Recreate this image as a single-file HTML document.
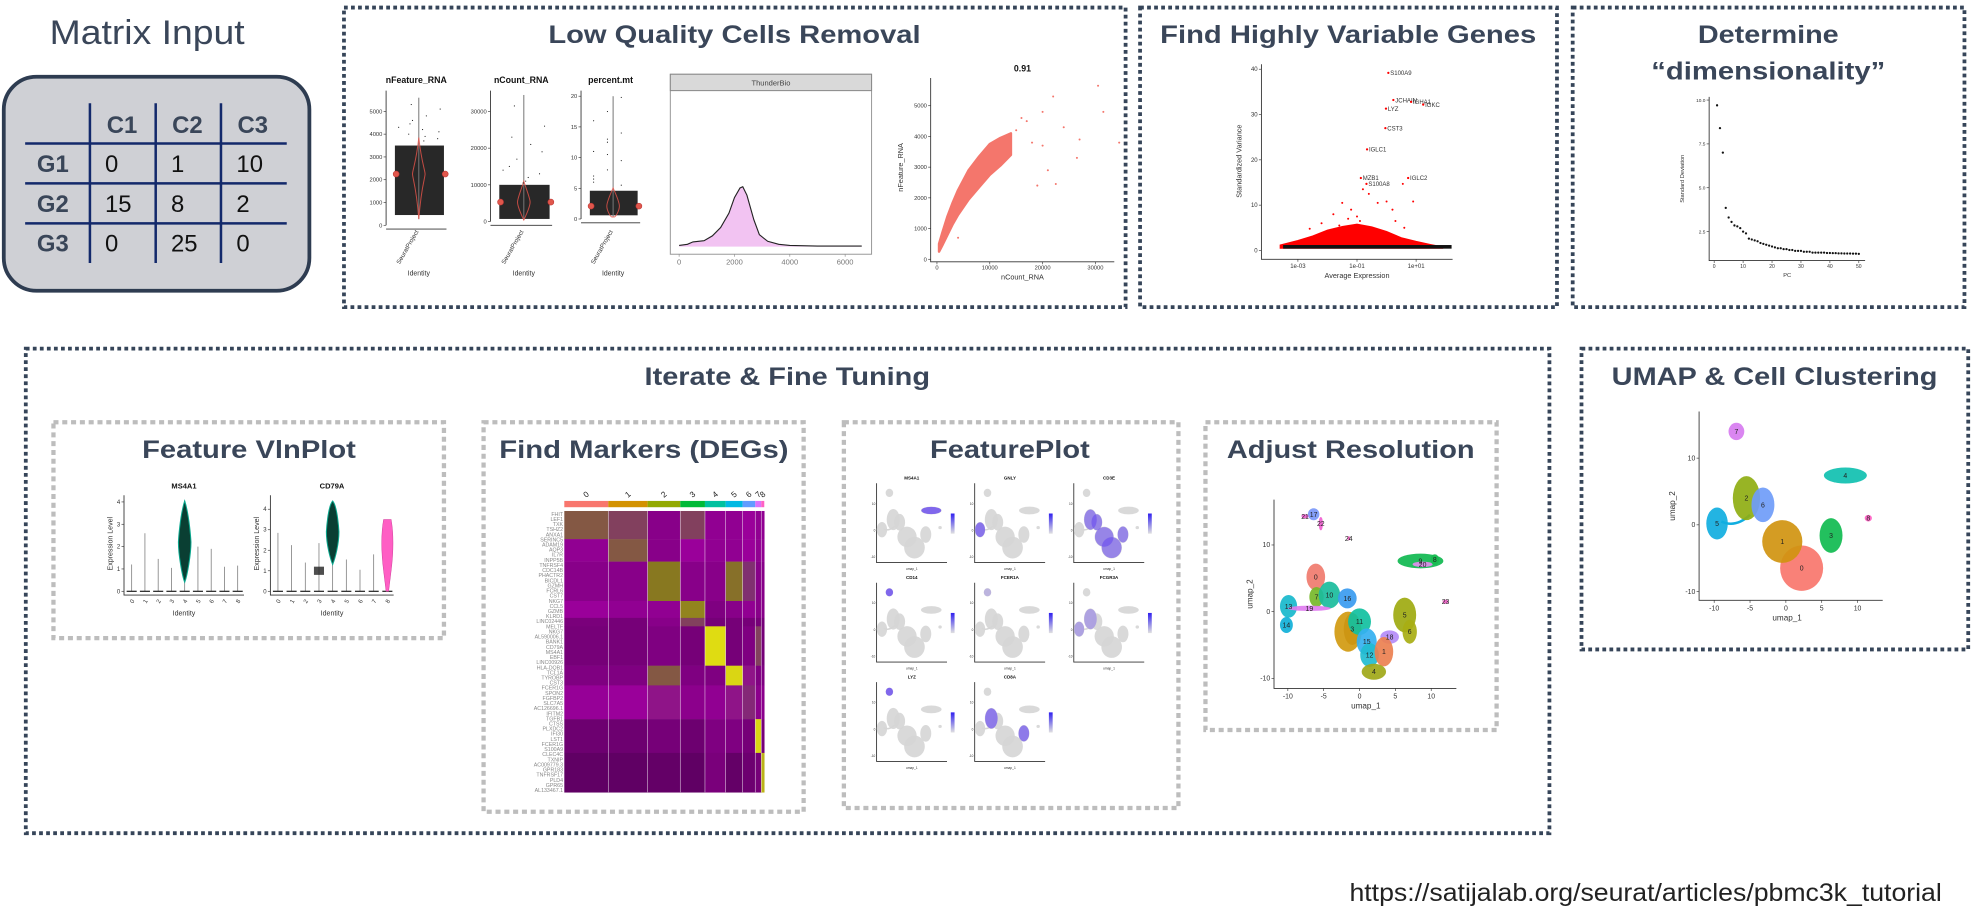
<!DOCTYPE html>
<html><head><meta charset="utf-8">
<style>
html,body{margin:0;padding:0;background:#fff;width:1972px;height:915px;overflow:hidden}
svg{display:block}
text{font-family:"Liberation Sans",Arial,sans-serif}
.ttl{font-weight:bold;fill:#3a4659;font-size:20px}
.nbox{fill:none;stroke:#364559;stroke-width:3;stroke-dasharray:3 2.6}
.gbox{fill:none;stroke:#bdbdbd;stroke-width:3.4;stroke-dasharray:4 3}
.ax{stroke:#333;stroke-width:0.7;fill:none}
.tk{font-size:5px;fill:#444}
</style></head>
<body>
<svg id="fig" width="1972" height="915" viewBox="0 0 1568 727" preserveAspectRatio="none">
<rect x="0" y="0" width="1568" height="727" fill="#fff"/>

<text x="117" y="35" text-anchor="middle" font-size="27" fill="#3a4659" textLength="155" lengthAdjust="spacingAndGlyphs">Matrix Input</text>
<g>
<rect x="3" y="61" width="243" height="170" rx="26" fill="#cfd0d5" stroke="#2e3c51" stroke-width="3"/>
<g stroke="#13296b" stroke-width="2">
<line x1="20" y1="114" x2="228" y2="114"/><line x1="20" y1="145.7" x2="228" y2="145.7"/><line x1="20" y1="177.5" x2="228" y2="177.5"/>
<line x1="71.5" y1="82" x2="71.5" y2="209"/><line x1="123.8" y1="82" x2="123.8" y2="209"/><line x1="175.7" y1="82" x2="175.7" y2="209"/>
</g>
<g font-size="19" font-weight="bold" fill="#3a4659">
<text x="97" y="105.5" text-anchor="middle">C1</text>
<text x="149" y="105.5" text-anchor="middle">C2</text>
<text x="201" y="105.5" text-anchor="middle">C3</text>
<text x="42" y="136.5" text-anchor="middle">G1</text>
<text x="42" y="168.3" text-anchor="middle">G2</text>
<text x="42" y="200" text-anchor="middle">G3</text>
</g>
<g font-size="19" fill="#111">
<text x="83.5" y="136.5">0</text>
<text x="136" y="136.5">1</text>
<text x="188" y="136.5">10</text>
<text x="83.5" y="168.3">15</text>
<text x="136" y="168.3">8</text>
<text x="188" y="168.3">2</text>
<text x="83.5" y="200">0</text>
<text x="136" y="200">25</text>
<text x="188" y="200">0</text>
</g>
</g>

<rect class="nbox" x="273.5" y="6" width="621.5" height="238"/>
<rect class="nbox" x="906.5" y="6" width="331.5" height="238"/>
<rect class="nbox" x="1250.5" y="6" width="311.5" height="238"/>
<rect class="nbox" x="20.5" y="277" width="1211.5" height="385"/>
<rect class="nbox" x="1257.5" y="277" width="307.5" height="239"/>
<rect class="gbox" x="42.5" y="335.5" width="310.5" height="171.5"/>
<rect class="gbox" x="384.5" y="335.5" width="254.5" height="309.5"/>
<rect class="gbox" x="671" y="335.5" width="266" height="306.5"/>
<rect class="gbox" x="958.5" y="335.5" width="231.5" height="244.5"/>

<text class="ttl" x="584" y="34" text-anchor="middle" textLength="296" lengthAdjust="spacingAndGlyphs">Low Quality Cells Removal</text>
<text class="ttl" x="1072" y="34" text-anchor="middle" textLength="299" lengthAdjust="spacingAndGlyphs">Find Highly Variable Genes</text>
<text class="ttl" x="1406" y="34" text-anchor="middle" textLength="112" lengthAdjust="spacingAndGlyphs">Determine</text>
<text class="ttl" x="1406" y="63" text-anchor="middle" textLength="186" lengthAdjust="spacingAndGlyphs">“dimensionality”</text>
<text class="ttl" x="626" y="306" text-anchor="middle" textLength="227" lengthAdjust="spacingAndGlyphs">Iterate &amp; Fine Tuning</text>
<text class="ttl" x="1411" y="306" text-anchor="middle" textLength="259" lengthAdjust="spacingAndGlyphs">UMAP &amp; Cell Clustering</text>
<text class="ttl" x="198" y="364" text-anchor="middle" textLength="170" lengthAdjust="spacingAndGlyphs">Feature VlnPlot</text>
<text class="ttl" x="512" y="364" text-anchor="middle" textLength="230" lengthAdjust="spacingAndGlyphs">Find Markers (DEGs)</text>
<text class="ttl" x="803" y="364" text-anchor="middle" textLength="127" lengthAdjust="spacingAndGlyphs">FeaturePlot</text>
<text class="ttl" x="1074" y="364" text-anchor="middle" textLength="197" lengthAdjust="spacingAndGlyphs">Adjust Resolution</text>
<text x="1544" y="716" text-anchor="end" font-size="19.5" fill="#222" textLength="471" lengthAdjust="spacingAndGlyphs">https://satijalab.org/seurat/articles/pbmc3k_tutorial</text>

<g id="charts"></g>
</svg>

<script>
const qcMetrics = ['nFeature_RNA','nCount_RNA','percent.mt'];
const qcTickVals = [[0,1000,2000,3000,4000,5000],[0,10000,20000,30000],[0,5,10,15,20]];
const qcMax = [5800, 35000, 20.5];
const qcCoreLow = [450, 700, 0.6];
const qcCoreHigh = [3500, 10000, 4.6];
const qcMedian = [2250, 5300, 2.1];
const qcTop = [5600, 34500, 20];
const qcOutliers = [
  [4300,4600,4800,5100,5300,3900,4100,4450,3700,3800,4000,4200],
  [14000,17000,21000,26000,31500,12000,19000,23000,11000,13000,15000,10500],
  [6,8,9.5,11,12.5,14,16,17.5,19.8,7,10.5,5.5,6.5,13]
];
const densX = [0,300,500,900,1200,1500,1800,2000,2200,2300,2450,2700,2900,3200,3600,4000,5000,6600];
const densY = [0.02,0.04,0.08,0.1,0.18,0.32,0.56,0.82,0.98,1.0,0.86,0.45,0.2,0.09,0.04,0.02,0.01,0.01];
const densTicks = [0,2000,4000,6000];
const scBandX = [400,1000,2000,3000,4000,6000,8000,10000,12000,14000];
const scBandLow = [250,450,800,1150,1450,1950,2350,2750,3050,3400];
const scBandHigh = [500,850,1400,1850,2250,2900,3350,3750,3950,4100];
const scOutX = [15000,16000,17000,18000,19000,20000,21000,22000,22500,24000,26500,27000,30500,31500,34500,13000,20000,4000];
const scOutY = [4200,4600,4500,3800,2400,4800,2900,5300,2450,4300,3300,3900,5650,4800,3800,3500,3700,700];
const scXTicks = [0,10000,20000,30000];
const scYTicks = [0,1000,2000,3000,4000,5000];
const hvgLogX = [-3.6,-3,-2.5,-2,-1.5,-1,-0.5,0,0.5,1,1.5,1.9];
const hvgHump = [1.2,2.2,3.2,4.5,5.3,5.8,5.2,4.2,2.8,2.0,1.3,0.8];
const hvgRedX = [-2.2,-1.8,-1.5,-1.2,-0.8,-0.6,-1.0,-0.3,0,0.2,0.6,0.9,-1.6,-0.9,0.3,0.55,-2.6,-1.3];
const hvgRedY = [6,8,10.5,9,13.5,12.5,7.5,10.5,10.8,9,5,10.8,5.5,6.5,6.5,14.7,4.8,7];
const hvgGenes = ['S100A9','JCHAIN','IGHA1','IGKC','LYZ','CST3','IGLC1','MZB1','S100A8','IGLC2'];
const hvgGeneX = [0.06,0.23,0.83,1.24,-0.02,-0.04,-0.66,-0.87,-0.68,0.73];
const hvgGeneY = [39.2,33.2,32.8,32.2,31.3,27,22.3,16,14.7,16];
const hvgXTicks = ['1e-03','1e-01','1e+01'];
const hvgXTickLog = [-3,-1,1];
const hvgYTicks = [0,10,20,30,40];
const elbowSD = [9.7,8.4,7.0,3.85,3.3,3.05,2.85,2.8,2.7,2.5,2.4,2.1,2.05,2.0,1.95,1.85,1.8,1.75,1.7,1.65,1.6,1.55,1.55,1.5,1.5,1.45,1.45,1.4,1.4,1.4,1.35,1.35,1.35,1.3,1.3,1.3,1.3,1.3,1.28,1.28,1.27,1.27,1.26,1.26,1.25,1.25,1.25,1.24,1.24,1.23];
const elbowYTicks = [2.5,5.0,7.5,10.0];
const elbowXTicks = [0,10,20,30,40,50];
const vlnClusters = ['0','1','2','3','4','5','6','7','8'];
const ms4a1Max = [1.2,2.6,1.45,1.05,4.05,2.0,1.9,1.1,1.15];
const cd79aMax = [2.85,2.25,1.4,2.35,4.4,1.55,1.05,1.8,3.5];
const hmClusters = ['0','1','2','3','4','5','6','7','8'];
const hmClusterShare = [132,118,98,74,62,51,38,18,9];
const hmBlockShare = [10,8,14,6,3,14,7,12,12,14];
const hmValues = [
  [0.72,0.66,0.4,0.66,0.45,0.45,0.5,0.45,0.45],
  [0.45,0.72,0.4,0.5,0.45,0.45,0.5,0.45,0.45],
  [0.4,0.4,0.8,0.4,0.4,0.78,0.62,0.4,0.4],
  [0.5,0.45,0.45,0.82,0.35,0.4,0.45,0.4,0.4],
  [0.32,0.3,0.4,0.66,0.3,0.3,0.3,0.3,0.3],
  [0.3,0.3,0.35,0.3,0.97,0.3,0.35,0.66,0.3],
  [0.35,0.35,0.72,0.35,0.35,0.96,0.55,0.35,0.35],
  [0.48,0.5,0.55,0.42,0.45,0.55,0.6,0.42,0.42],
  [0.25,0.25,0.3,0.25,0.35,0.35,0.3,0.96,0.3],
  [0.18,0.18,0.2,0.18,0.32,0.2,0.25,0.3,0.9]
];
const hmGenes = ['FHIT','LEF1','TXK','TSHZ2','ANXA1','SERINC5','ADAM19','AQP3','IL7R','INPP5B','TNFRSF4','CDC14B','PHACTR2','BICDL1','GZMH','FCRL6','CST7','NKG7','CCL5','GZMB','KLRD1','LINC02446','MELTF','NKG7','AL590006.1','BANK1','CD79A','MS4A1','EBF1','LINC00926','HLA-DQB1','TCL1A','TYROBP','CST3','FCER1G','SPON2','FGFBP2','SLC7A5','AC126696.1','IFITM2','TGFB1','CTSS','PLXDC2','IFI30','LST1','FCER1G','S100A9','CLEC4C','TXNIP','AC009779.3','GPR183','TNFRSF17','PLD4','GPR65','AL133467.1'];
const arIds = ['0','7','10','16','13','19','2','3','11','15','12','18','1','4','5','9','20','17','14','21','22','24','23','6','8'];
const arU = [-6.1,-6.0,-4.2,-1.7,-9.9,-7.0,-1.6,-1.0,0.0,1.0,1.4,4.2,3.4,2.0,6.3,8.5,8.8,-6.4,-10.2,-7.6,-5.4,-1.5,12.0,7.0,10.5];
const arV = [5.2,2.2,2.5,2.0,0.8,0.5,-3.0,-2.6,-1.5,-4.5,-6.5,-3.8,-6.0,-9.0,-0.5,7.6,7.1,14.6,-2.0,14.3,13.2,11.0,1.5,-3.0,7.8];
const arRx = [1.3,1.0,1.5,1.3,1.2,3.0,1.9,1.2,1.6,1.4,1.3,1.3,1.3,1.7,1.6,3.2,1.4,0.8,0.9,0.5,0.3,0.2,0.4,1.0,0.6];
const arRy = [2.0,1.5,2.0,1.5,1.7,0.4,3.0,2.4,2.0,2.0,1.8,1.0,2.2,1.2,2.6,1.1,0.4,0.9,1.2,0.3,1.0,0.3,0.3,1.8,0.8];
const arColors = ['#f07b6e','#76b82a','#1abc9c','#3a9bf0','#18b8cc','#e07cf0','#d19a10','#cc9512','#11c0a0','#35b0f0','#22bcd0','#b48cf8','#ec8050','#a0a818','#9eaa10','#10b850','#e38ef0','#7b98f8','#10b0d8','#f060d0','#f060d0','#f060c0','#f060c8','#a8ae14','#18bc50'];
const arLabelShow = [1,1,1,1,1,1,0,1,1,1,1,1,1,1,1,1,1,1,1,1,1,1,1,1,1];
const fuIds = ['0','1','2','3','4','5','6','7','8'];
const fuU = [2.2,-0.5,-5.5,6.3,8.3,-9.6,-3.2,-6.9,11.5];
const fuV = [-6.5,-2.5,4.0,-1.6,7.4,0.2,3.0,14.0,1.0];
const fuRx = [3.0,2.8,1.9,1.6,3.0,1.5,1.6,1.1,0.5];
const fuRy = [3.4,3.2,3.3,2.6,1.2,2.4,2.6,1.3,0.5];
const fuColors = ['#f8766d','#d09410','#8fae12','#10bb50','#10c0b0','#10aee0','#6f9cf8','#d77cf0','#ff61c3'];
const axTicks = [-10,-5,0,5,10];
const fpGenes = ['MS4A1','GNLY','CD3E','CD14','FCER1A','FCGR3A','LYZ','CD8A'];
const fpHighlight = [[4],[5],[0,1,2,3,6],[7],[7],[5,2],[7],[2,3]];
const fpStrength = [0.95,0.85,0.7,0.95,0.3,0.45,0.95,0.8];

const NS = 'http://www.w3.org/2000/svg';
const root = document.getElementById('charts');
function mk(tag, parent){ const e = document.createElementNS(NS, tag); parent.appendChild(e); return e; }
function at(e, o){ for (const k in o) e.setAttribute(k, o[k]); return e; }
function grp(parent){ return mk('g', parent); }
function label(parent, x, y, s, size, anchor, extra){
  const t = mk('text', parent);
  at(t, {x:x, y:y, 'font-size':size, 'text-anchor':anchor||'middle', fill:'#333'});
  if (extra) at(t, extra);
  t.textContent = s;
  return t;
}
function lin(d0,d1,r0,r1){ return v => r0 + (v-d0)/(d1-d0)*(r1-r0); }

(function(){
  const axisX = [307,390,462], rightX = [355,439,509], bottoms = [179,176,174], top = 74;
  qcMetrics.forEach((m,i)=>{
    const g = grp(root);
    
    
    const y = lin(0, qcMax[i], bottoms[i], top);
    const ax = axisX[i], rx = rightX[i], cx = (ax+rx)/2 + 2;
    const t = label(g, (ax+rx)/2, 66, m, 7, 'middle', {'font-weight':'bold', fill:'#111'});
    
    
    at(mk('path', g), {d:`M${ax},${top-2}V${bottoms[i]}`, class:'ax'});
    qcTickVals[i].forEach(v=>{
      at(mk('line', g), {x1:ax-2, x2:ax, y1:y(v), y2:y(v), stroke:'#333', 'stroke-width':0.5});
      label(g, ax-3, y(v)+1.6, String(v), 4.6, 'end');
    });
    const core = mk('rect', g);
    at(core, {x:ax+7, y:y(qcCoreHigh[i]), width:rx-ax-9, height:y(qcCoreLow[i])-y(qcCoreHigh[i]), fill:'#111', opacity:0.9});
    
    
    at(mk('line', g), {x1:cx, x2:cx, y1:y(qcTop[i]), y2:y(qcCoreLow[i]*0.6), stroke:'#777', 'stroke-width':0.8});
    const vm = y(qcMedian[i]), vh = y(qcCoreHigh[i]*1.1), vl = y(qcCoreLow[i]*0.6);
    const vio = mk('path', g);
    at(vio, {d:`M${cx},${vh} C${cx+2},${vm-10} ${cx+5},${vm-3} ${cx+5},${vm} C${cx+5},${vm+3} ${cx+2},${vm+10} ${cx},${vl} C${cx-2},${vm+10} ${cx-5},${vm+3} ${cx-5},${vm} C${cx-5},${vm-3} ${cx-2},${vm-10} ${cx},${vh}Z`, fill:'none', stroke:'#e8544a', 'stroke-width':0.8, opacity:0.8});
    
    
    [ax+8, rx-1].forEach(px=>{ at(mk('circle', g), {cx:px, cy:vm, r:2.4, fill:'#e0574c', stroke:'#b33', 'stroke-width':0.4}); });
    qcOutliers[i].forEach((v,k)=>{
      const p = mk('circle', g);
      at(p, {cx: ax+10 + ((k*11)%(rx-ax-14)), cy:y(v), r:0.45, fill:'#111'});
      
      
    });
    at(mk('path', g), {d:`M${ax},${bottoms[i]+3}H${rx}`, class:'ax'});
    label(g, cx, 198, 'SeuratProject', 5, 'end', {transform:`rotate(-60 ${cx} 184)`, x:cx, y:184});
    label(g, cx, 219, 'Identity', 5.5, 'middle');
  });
})();

(function(){
  const g = grp(root);
  
  
  const x = lin(0, 6000, 540, 672), y = lin(0, 1, 196, 148.4);
  at(mk('rect', g), {x:533, y:59, width:160, height:143, fill:'#fff', stroke:'#999', 'stroke-width':0.8});
  const hdr = mk('rect', g);
  at(hdr, {x:533, y:59, width:160, height:13, fill:'#d9d9d9', stroke:'#888', 'stroke-width':0.8});
  
  
  label(g, 613, 68, 'ThunderBio', 6, 'middle', {fill:'#444'});
  let d = `M${x(densX[0])},${y(0)}`;
  densX.forEach((v,i)=>{ d += ` L${x(v)},${y(densY[i])}`; });
  const area = mk('path', g);
  at(area, {d: d + ` L${x(densX[densX.length-1])},${y(0)}Z`, fill:'#f2c3f2', stroke:'none'});
  
  
  let ld = '';
  densX.forEach((v,i)=>{ ld += (i?' L':'M') + x(v) + ',' + y(densY[i]); });
  const line = mk('path', g);
  at(line, {d:ld, fill:'none', stroke:'#222', 'stroke-width':0.9});
  
  
  densTicks.forEach(v=>{
    at(mk('line', g), {x1:x(v), x2:x(v), y1:202, y2:204, stroke:'#888', 'stroke-width':0.5});
    label(g, x(v), 210, String(v), 6, 'middle', {fill:'#777'});
  });
})();

(function(){
  const g = grp(root);
  
  
  const x = lin(0, 30000, 745, 871), y = lin(0, 5000, 206, 84);
  at(mk('path', g), {d:'M740,62V208H886', class:'ax'});
  label(g, 813, 57, '0.91', 7, 'middle', {'font-weight':'bold', fill:'#111'});
  let d = '';
  scBandX.forEach((v,i)=>{ d += (i?' L':'M') + x(v) + ',' + y(scBandHigh[i]); });
  for (let i=scBandX.length-1;i>=0;i--) d += ` L${x(scBandX[i])},${y(scBandLow[i])}`;
  const band = mk('path', g);
  at(band, {d:d+'Z', fill:'#f4766c', stroke:'#f4766c', 'stroke-width':2, 'stroke-linejoin':'round'});
  
  
  scOutX.forEach((v,i)=>{
    const p = mk('circle', g);
    at(p, {cx:x(v), cy:y(scOutY[i]), r:0.8, fill:'#f4766c'});
    
    
  });
  scXTicks.forEach(v=>{ at(mk('line', g), {x1:x(v),x2:x(v),y1:208,y2:210,stroke:'#333','stroke-width':0.5}); label(g, x(v), 214, String(v), 4.6); });
  scYTicks.forEach(v=>{ at(mk('line', g), {x1:738,x2:740,y1:y(v),y2:y(v),stroke:'#333','stroke-width':0.5}); label(g, 737, y(v)+1.6, String(v), 4.6, 'end'); });
  label(g, 813, 222, 'nCount_RNA', 5.8);
  label(g, 718, 133, 'nFeature_RNA', 5.8, 'middle', {transform:'rotate(-90 718 133)'});
})();

(function(){
  const g = grp(root);
  
  
  const x = lin(-3, -1, 1032, 1079), y = lin(0, 40, 199, 55);
  at(mk('path', g), {d:'M1003,51V206H1155', class:'ax'});
  let d = `M${x(hvgLogX[0])},${y(0.5)}`;
  hvgLogX.forEach((v,i)=>{ d += ` L${x(v)},${y(hvgHump[i])}`; });
  d += ` L${x(hvgLogX[hvgLogX.length-1])},${y(0.5)}Z`;
  const hump = mk('path', g);
  at(hump, {d:d, fill:'#f00', stroke:'#f00', 'stroke-width':0.8});
  
  
  const base = mk('rect', g);
  at(base, {x:x(-3.5), y:y(1.2), width:x(2.2)-x(-3.5), height:y(0.4)-y(1.2), fill:'#111'});
  
  
  hvgRedX.forEach((v,i)=>{
    const p = mk('circle', g);
    at(p, {cx:x(v), cy:y(hvgRedY[i]), r:0.8, fill:'#f00'});
    
    
  });
  hvgGenes.forEach((s,i)=>{
    const p = mk('circle', g);
    at(p, {cx:x(hvgGeneX[i]), cy:y(hvgGeneY[i]), r:0.9, fill:'#f00'});
    
    
    const t = label(g, x(hvgGeneX[i])+1.5, y(hvgGeneY[i])+1.8, s, 4.8, 'start');
    
    
  });
  hvgYTicks.forEach(v=>{ at(mk('line', g), {x1:1001,x2:1003,y1:y(v),y2:y(v),stroke:'#333','stroke-width':0.5}); label(g, 1000, y(v)+1.6, String(v), 4.8, 'end'); });
  hvgXTicks.forEach((s,i)=>{ at(mk('line', g), {x1:x(hvgXTickLog[i]),x2:x(hvgXTickLog[i]),y1:206,y2:208,stroke:'#333','stroke-width':0.5}); label(g, x(hvgXTickLog[i]), 213, s, 4.8); });
  label(g, 1079, 221, 'Average Expression', 5.8);
  label(g, 987, 128, 'Standardized Variance', 5.8, 'middle', {transform:'rotate(-90 987 128)'});
})();

(function(){
  const g = grp(root);
  
  
  const x = lin(0, 50, 1363, 1478), y = lin(2.5, 10, 184, 79.5);
  at(mk('path', g), {d:'M1359,77V207H1483', class:'ax'});
  elbowSD.forEach((v,i)=>{
    const p = mk('circle', g);
    at(p, {cx:x(i+1), cy:y(v), r:0.9, fill:'#111'});
    
    
  });
  elbowYTicks.forEach(v=>{ at(mk('line', g), {x1:1357,x2:1359,y1:y(v),y2:y(v),stroke:'#333','stroke-width':0.5}); label(g, 1356, y(v)+1.4, v.toFixed(1), 3.8, 'end'); });
  elbowXTicks.forEach(v=>{ at(mk('line', g), {x1:x(v),x2:x(v),y1:207,y2:209,stroke:'#333','stroke-width':0.5}); label(g, x(v), 213, String(v), 4); });
  label(g, 1421, 220, 'PC', 4.5);
  label(g, 1339, 142, 'Standard Deviation', 4.5, 'middle', {transform:'rotate(-90 1339 142)'});
})();

(function(){
  const specs = [
    {name:'MS4A1', ax:98.6, lx0:104.7, unit:17.75, vals:ms4a1Max, ticks:[0,1,2,3,4], right:194},
    {name:'CD79A', ax:215, lx0:221, unit:16.3, vals:cd79aMax, ticks:[0,1,2,3,4], right:313}
  ];
  specs.forEach((s,si)=>{
    const g = grp(root);
    
    
    const y = v => 469.8 - v*s.unit;
    const x = i => s.lx0 + i*((s.right-5-s.lx0)/8);
    at(mk('path', g), {d:`M${s.ax},393.5V${y(0)+3}H${s.right}`, class:'ax'});
    const t = label(g, (s.ax+s.right)/2, 388, s.name, 6, 'middle', {'font-weight':'bold', fill:'#111'});
    
    
    s.ticks.forEach(v=>{ at(mk('line', g), {x1:s.ax-2,x2:s.ax,y1:y(v),y2:y(v),stroke:'#333','stroke-width':0.5}); label(g, s.ax-3, y(v)+1.6, String(v), 4.8, 'end'); });
    s.vals.forEach((v,i)=>{
      const cx = x(i);
      const ln = mk('line', g);
      at(ln, {x1:cx, x2:cx, y1:y(v), y2:y(0), stroke:'#777', 'stroke-width':0.6});
      
      
      at(mk('line', g), {x1:cx-4, x2:cx+4, y1:y(0), y2:y(0), stroke:'#111', 'stroke-width':0.9});
      if (i===4) {
        const c = mk('path', g);
        const top = y(v), bot = si===0 ? y(0.4) : y(1.3), mid = si===0 ? y(2.2) : y(2.9);
        at(c, {d:`M${cx},${top} C${cx+4},${mid-20} ${cx+5},${mid} ${cx+5},${mid} C${cx+5},${mid+10} ${cx+2},${bot-5} ${cx},${bot} C${cx-2},${bot-5} ${cx-5},${mid+10} ${cx-5},${mid} C${cx-5},${mid} ${cx-4},${mid-20} ${cx},${top}Z`, fill:'#0a3f33', stroke:'#0aa88e', 'stroke-width':0.8});
        
        
      }
      if (si===1 && i===8) {
        const c = mk('path', g);
        const top = y(v), bot = y(0);
        at(c, {d:`M${cx-3},${top} H${cx+3} C${cx+5},${y(2.8)} ${cx+5},${y(2)} ${cx+3},${y(1)} L${cx+1},${bot} H${cx-1} L${cx-3},${y(1)} C${cx-5},${y(2)} ${cx-5},${y(2.8)} ${cx-3},${top}Z`, fill:'#ff5ec4', stroke:'#d0409c', 'stroke-width':0.4});
        
        
      }
      if (si===1 && i===3) {
        const c = mk('rect', g);
        at(c, {x:cx-4, y:y(1.2), width:8, height:y(0.8)-y(1.2), fill:'#222', opacity:0.8});
        
        
      }
      label(g, cx, 479.5, vlnClusters[i], 4.8, 'middle', {transform:`rotate(-60 ${cx} 477.5)`});
    });
    label(g, (s.ax+s.right)/2, 489, 'Identity', 5.6);
    label(g, s.ax-9, 432, 'Expression Level', 5.6, 'middle', {transform:`rotate(-90 ${s.ax-9} 432)`});
  });
})();

(function(){
  const g = grp(root);
  
  
  const x0 = 448.7, x1 = 607.7, y0 = 406, y1 = 629.5;
  const totalC = hmClusterShare.reduce((a,b)=>a+b,0), totalB = hmBlockShare.reduce((a,b)=>a+b,0);
  const colX = []; let acc = 0;
  hmClusterShare.forEach(w=>{ colX.push(x0 + acc/totalC*(x1-x0)); acc += w; }); colX.push(x1);
  const rowY = []; acc = 0;
  hmBlockShare.forEach(h=>{ rowY.push(y0 + acc/totalB*(y1-y0)); acc += h; }); rowY.push(y1);
  const stops = [[0,[0x40,0x00,0x45]],[0.5,[0x9a,0x00,0x9a]],[0.62,[0x80,0x30,0x70]],[0.8,[0x88,0x78,0x20]],[1,[0xee,0xee,0x10]]];
  function col(v){
    for (let k=1;k<stops.length;k++){
      if (v<=stops[k][0]){
        const a=stops[k-1], b=stops[k], t=(v-a[0])/(b[0]-a[0]);
        return 'rgb(' + a[1].map((q,j)=>Math.round(q+(b[1][j]-q)*t)).join(',') + ')';
      }
    }
    return 'rgb(238,238,16)';
  }
  hmValues.forEach((row,bi)=>{
    row.forEach((v,ci)=>{
      const r = mk('rect', g);
      at(r, {x:colX[ci], y:rowY[bi], width:colX[ci+1]-colX[ci]+0.2, height:rowY[bi+1]-rowY[bi]+0.2, fill:col(v)});
      
      
    });
  });
  const barColors = ['#f8766d','#d39200','#93aa00','#00ba38','#00c19f','#00b9e3','#619cff','#db72fb','#ff61c3'];
  hmClusters.forEach((c,ci)=>{
    const b = mk('rect', g);
    at(b, {x:colX[ci], y:398, width:colX[ci+1]-colX[ci], height:5, fill:barColors[ci]});
    
    
    if (ci>0) at(mk('line', g), {x1:colX[ci], x2:colX[ci], y1:y0, y2:y1, stroke:'#fff', 'stroke-width':0.5, opacity:0.7});
    const cx = (colX[ci]+colX[ci+1])/2;
    const t = label(g, cx, 395, c, 6.5, 'middle', {transform:`rotate(-40 ${cx} 393)`, fill:'#222'});
    
    
  });
  hmGenes.forEach((s,i)=>{
    const yy = y0 + (i+0.7)*(y1-y0)/hmGenes.length;
    const t = label(g, x0-1, yy+1, s, 4.2, 'end', {fill:'#888'});
    
    
  });
})();

function drawBlobs(g, X, Y, us, vs, rxs, rys, colors, sx, sy, name){
  us.forEach((u,i)=>{
    const e = mk('ellipse', g);
    at(e, {cx:X(u), cy:Y(vs[i]), rx:Math.max(rxs[i]*sx,0.6), ry:Math.max(rys[i]*sy,0.6), fill:colors[i], opacity:0.92});
    
    
  });
}

(function(){
  const g = grp(root);
  
  
  const X = u => 1024 + (u+10)*5.7, Y = v => 486 - v*5.3;
  at(mk('path', g), {d:'M1013,397V547H1158', class:'ax'});
  drawBlobs(g, X, Y, arU, arV, arRx, arRy, arColors, 5.7, 5.3, 'cluster-blob');
  arIds.forEach((s,i)=>{
    if (!arLabelShow[i]) return;
    const t = label(g, X(arU[i]), Y(arV[i])+2, s, 5.5, 'middle', {fill:'#222'});
    
    
  });
  axTicks.forEach(v=>{ at(mk('line', g), {x1:X(v),x2:X(v),y1:547,y2:549,stroke:'#333','stroke-width':0.5}); label(g, X(v), 555, String(v), 5.5); });
  [-10,0,10].forEach(v=>{ at(mk('line', g), {x1:1011,x2:1013,y1:Y(v),y2:Y(v),stroke:'#333','stroke-width':0.5}); label(g, 1010, Y(v)+1.8, String(v), 5.5, 'end'); });
  label(g, 1086, 563, 'umap_1', 6.5);
  label(g, 996, 472, 'umap_2', 6.5, 'middle', {transform:'rotate(-90 996 472)'});
})();

(function(){
  const g = grp(root);
  
  
  const X = u => 1363 + (u+10)*5.7, Y = v => 417 - v*5.3;
  at(mk('path', g), {d:'M1351,327V477H1497', class:'ax'});
  const tail = mk('path', g);
  at(tail, {d:`M${X(-9)},${Y(0.5)} Q${X(-7)},${Y(-0.5)} ${X(-5)},${Y(1.5)}`, stroke:'#10aee0', 'stroke-width':2, fill:'none'});
  
  
  drawBlobs(g, X, Y, fuU, fuV, fuRx, fuRy, fuColors, 5.7, 5.3, 'cluster-blob');
  fuIds.forEach((s,i)=>{
    const t = label(g, X(fuU[i]), Y(fuV[i])+2, s, 5.5, 'middle', {fill:'#222'});
    
    
  });
  axTicks.forEach(v=>{ at(mk('line', g), {x1:X(v),x2:X(v),y1:477,y2:479,stroke:'#333','stroke-width':0.5}); label(g, X(v), 485, String(v), 5.5); });
  [-10,0,10].forEach(v=>{ at(mk('line', g), {x1:1349,x2:1351,y1:Y(v),y2:Y(v),stroke:'#333','stroke-width':0.5}); label(g, 1348, Y(v)+1.8, String(v), 5.5, 'end'); });
  label(g, 1421, 493, 'umap_1', 6.5);
  label(g, 1332, 402, 'umap_2', 6.5, 'middle', {transform:'rotate(-90 1332 402)'});
})();

(function(){
  const axs = [697,775,853.8], tops = [384,463,542];
  const grey = fuU.map(()=> '#d6d6d6');
  fpGenes.forEach((gene,k)=>{
    const ax = axs[k%3], top = tops[Math.floor(k/3)];
    const g = grp(root);
    
    
    const X = u => ax + 25.3 + u*2.19, Y = v => top + 37.3 - v*2.12;
    at(mk('path', g), {d:`M${ax},${top}V${top+63}H${ax+56}`, class:'ax', 'stroke-width':0.4});
    const t = label(g, ax+28, top-3, gene, 3.6, 'middle', {'font-weight':'bold', fill:'#111'});
    
    
    const tail = mk('path', g);
    at(tail, {d:`M${X(-9)},${Y(0.5)} Q${X(-7)},${Y(-0.5)} ${X(-5)},${Y(1.5)}`, stroke:'#d6d6d6', 'stroke-width':1.2, fill:'none'});
    
    
    drawBlobs(g, X, Y, fuU, fuV, fuRx.map(r=>r*1.25), fuRy.map(r=>r*1.2), grey, 2.19, 2.12, 'umap-cell-blob');
    fpHighlight[k].forEach(ci=>{
      const e = mk('ellipse', g);
      at(e, {cx:X(fuU[ci]), cy:Y(fuV[ci]), rx:fuRx[ci]*2.19*1.2, ry:fuRy[ci]*2.12*1.15, fill:'#6a4cf0', opacity:fpStrength[k]*0.85});
      
      
    });
    const cb = mk('rect', g);
    at(cb, {x:ax+59, y:top+24, width:3, height:16, fill:'url(#cbgrad)'});
    
    
    [-10,0,10].forEach(v=>{ label(g, ax-1, Y(v)+1, String(v), 2.5, 'end'); });
    label(g, ax+28, top+69, 'umap_1', 2.6);
  });
  const defs = mk('defs', document.getElementById('fig'));
  const lg = mk('linearGradient', defs);
  at(lg, {id:'cbgrad', x1:0, y1:1, x2:0, y2:0});
  at(mk('stop', lg), {offset:'0', 'stop-color':'#e0e0e0'});
  at(mk('stop', lg), {offset:'1', 'stop-color':'#3020f0'});
})();
</script>
</body></html>
